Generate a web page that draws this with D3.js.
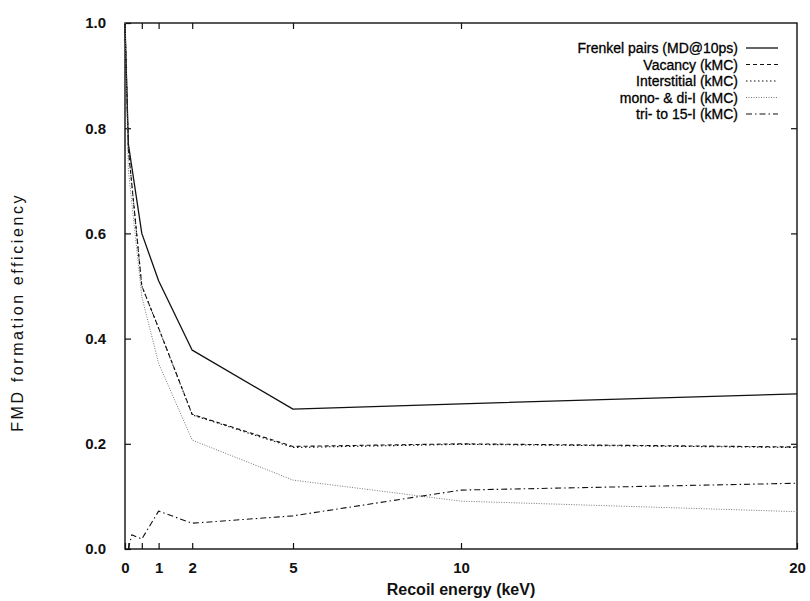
<!DOCTYPE html>
<html>
<head>
<meta charset="utf-8">
<script src="https://cdn.jsdelivr.net/npm/d3@7/dist/d3.min.js"></script>
<style>
  html, body { margin: 0; padding: 0; background: #fff; }
  svg { display: block; font-family: "Liberation Sans", Arial, Helvetica, sans-serif; }
</style>
</head>
<body>
<svg id="chart" width="810" height="601"></svg>
<script>
// Recoil energies (keV) at which each series is sampled
const energies = [0, 0.1, 0.2, 0.5, 1, 2, 5, 10, 20];

// FMD formation efficiency per series (null = not sampled)
const frenkelPairs = [1.0, 0.77, null, 0.60, 0.51, 0.378, 0.266, 0.276, 0.295];
const vacancy      = [1.0, 0.76, null, 0.50, 0.42, 0.256, 0.195, 0.200, 0.194];
const interstitial = [1.0, 0.76, null, 0.50, 0.42, 0.255, 0.193, 0.199, 0.193];
const monoDiI      = [1.0, 0.72, null, 0.48, 0.353, 0.207, 0.131, 0.091, 0.071];
const triTo15I     = [null, 0.0, 0.027, 0.019, 0.072, 0.049, 0.063, 0.112, 0.125];

const seriesNames = [
  "Frenkel pairs (MD@10ps)",
  "Vacancy (kMC)",
  "Interstitial (kMC)",
  "mono- & di-I (kMC)",
  "tri- to 15-I (kMC)"
];
const seriesValues = [frenkelPairs, vacancy, interstitial, monoDiI, triTo15I];

// Axis ticks
const xTickValues = [0, 0.1, 0.5, 1, 2, 5, 10, 20];
const xTickLabels = ["0", "", "", "1", "2", "5", "10", "20"];
const yTickValues = [0, 0.2, 0.4, 0.6, 0.8, 1.0];

// Line styles per series
const styles = [
  { dash: null,          color: "#111", width: 1.3 },
  { dash: "4,3",         color: "#111", width: 1.1 },
  { dash: "1.5,2.5",     color: "#111", width: 1.1 },
  { dash: "1,1.5",       color: "#777", width: 1.0 },
  { dash: "6,3,1.5,3",   color: "#111", width: 1.1 }
];

const svg = d3.select("#chart");
const margin = { left: 125, right: 13, top: 23, bottom: 52 };
const W = 810, H = 601;
const x = d3.scaleLinear().domain([0, 20]).range([margin.left, W - margin.right]);
const y = d3.scaleLinear().domain([0, 1]).range([H - margin.bottom, margin.top]);

const font = "Liberation Sans, Arial, sans-serif";

// Frame
svg.append("rect")
  .attr("x", x(0)).attr("y", y(1))
  .attr("width", x(20) - x(0)).attr("height", y(0) - y(1))
  .attr("fill", "none").attr("stroke", "#111").attr("stroke-width", 1.4);

// Bottom axis (inward ticks)
const xAxisB = d3.axisBottom(x).tickValues(xTickValues)
  .tickSize(-6).tickPadding(13)
  .tickFormat((d, i) => xTickLabels[i]);
svg.append("g").attr("transform", `translate(0,${y(0)})`).call(xAxisB)
  .call(g => g.select(".domain").remove())
  .call(g => g.selectAll("line").attr("stroke", "#111").attr("stroke-width", 1.2))
  .call(g => g.selectAll("text").attr("font-size", 15).attr("font-weight", "bold")
    .attr("fill", "#111").attr("font-family", font));

// Top axis (inward ticks, no labels)
const xAxisT = d3.axisTop(x).tickValues(xTickValues.filter(v => v > 0.2 && v < 20))
  .tickSize(-6).tickFormat("");
svg.append("g").attr("transform", `translate(0,${y(1)})`).call(xAxisT)
  .call(g => g.select(".domain").remove())
  .call(g => g.selectAll("line").attr("stroke", "#111").attr("stroke-width", 1.2));

// Left axis
const yAxisL = d3.axisLeft(y).tickValues(yTickValues)
  .tickSize(-6).tickPadding(19).tickFormat(d3.format(".1f"));
svg.append("g").attr("transform", `translate(${x(0)},0)`).call(yAxisL)
  .call(g => g.select(".domain").remove())
  .call(g => g.selectAll("line").attr("stroke", "#111").attr("stroke-width", 1.2))
  .call(g => g.selectAll("text").attr("font-size", 15).attr("font-weight", "bold")
    .attr("fill", "#111").attr("font-family", font));

// Right axis
const yAxisR = d3.axisRight(y).tickValues(yTickValues.filter(v => v > 0 && v < 1))
  .tickSize(-6).tickFormat("");
svg.append("g").attr("transform", `translate(${x(20)},0)`).call(yAxisR)
  .call(g => g.select(".domain").remove())
  .call(g => g.selectAll("line").attr("stroke", "#111").attr("stroke-width", 1.2));

// Axis titles
svg.append("text")
  .attr("x", (x(0) + x(20)) / 2).attr("y", H - 6)
  .attr("text-anchor", "middle").attr("font-size", 16).attr("font-weight", "bold")
  .attr("fill", "#111").attr("font-family", font)
  .text("Recoil energy (keV)");

svg.append("text")
  .attr("transform", `translate(23,${y(0.45)}) rotate(-90)`)
  .attr("text-anchor", "middle").attr("font-size", 16)
  .attr("letter-spacing", 2.6)
  .attr("fill", "#111").attr("font-family", font)
  .text("FMD formation efficiency");

// Series lines
const line = d3.line()
  .x(d => x(d.e))
  .y(d => y(d.v));

seriesValues.forEach((vals, i) => {
  const pts = energies.map((e, j) => ({ e, v: vals[j] })).filter(d => d.v !== null);
  const p = svg.append("path")
    .datum(pts)
    .attr("d", line)
    .attr("fill", "none")
    .attr("stroke", styles[i].color)
    .attr("stroke-width", styles[i].width)
    .attr("stroke-linejoin", "round");
  if (styles[i].dash) p.attr("stroke-dasharray", styles[i].dash);
});

// Legend
const legendRight = 738, legendTop = 48, rowH = 16.5;
const lg = svg.append("g");
seriesNames.forEach((name, i) => {
  const cy = legendTop + i * rowH;
  lg.append("text")
    .attr("x", legendRight).attr("y", cy + 5)
    .attr("text-anchor", "end").attr("font-size", 14)
    .attr("fill", "#000").attr("stroke", "#000").attr("stroke-width", 0.3)
    .attr("font-family", font)
    .text(name);
  const s = lg.append("line")
    .attr("x1", legendRight + 8).attr("x2", legendRight + 40)
    .attr("y1", cy).attr("y2", cy)
    .attr("stroke", styles[i].color).attr("stroke-width", styles[i].width);
  if (styles[i].dash) s.attr("stroke-dasharray", styles[i].dash);
});
</script>
</body>
</html>
